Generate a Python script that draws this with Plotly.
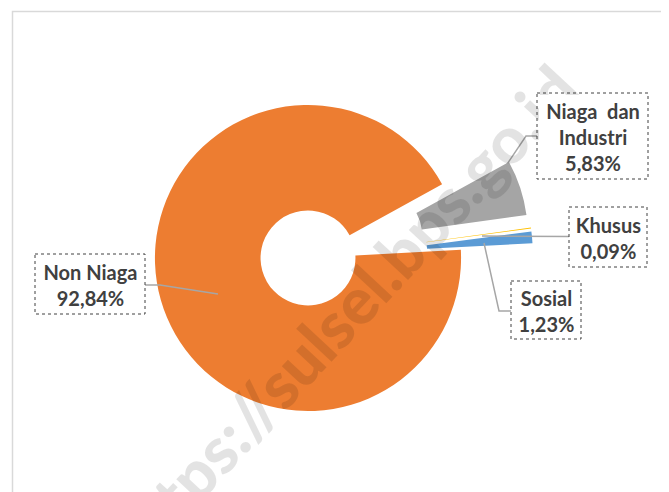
import plotly.graph_objects as go

# ---- data ----
categories = ["Sosial", "Non Niaga", "Niaga dan Industri", "Khusus"]
values = [1.23, 92.84, 5.83, 0.09]
value_labels = ["1,23%", "92,84%", "5,83%", "0,09%"]
colors = ["#5B9BD5", "#ED7D31", "#A5A5A5", "#FFC000"]
pulls = [0.47, 0.0, 0.46, 0.47]

W, H = 669, 492


def px(x):
    return x / W


def py(y):
    return 1 - y / H


CX, CY, HALF = 300, 250, 225

fig = go.Figure()
fig.add_trace(go.Pie(
    labels=categories,
    values=values,
    sort=False,
    direction="clockwise",
    rotation=82.5,
    hole=0.31,
    pull=pulls,
    marker=dict(colors=colors, line=dict(width=0)),
    textinfo="none",
    showlegend=False,
    domain=dict(x=[px(CX - HALF), px(CX + HALF)], y=[py(CY + HALF), py(CY - HALF)]),
))

shapes = []
# outer chart frame
shapes.append(dict(type="rect", xref="paper", yref="paper",
                   x0=px(4.5), y0=py(3.5), x1=px(675), y1=py(500),
                   line=dict(color="#D9D9D9", width=1.5), layer="below"))

boxes = [
    ("Non Niaga", (27, 246, 137, 306), [(137, 277), (152, 277), (210, 286)]),
    ("Niaga dan Industri", (529, 85, 640, 171), [(529, 128), (518, 128), (485, 177)]),
    ("Khusus", (561, 199, 639, 259), [(561, 228.5), (474, 228)]),
    ("Sosial", (503, 273, 573, 331), [(503, 303), (491, 303), (476, 235)]),
]
box_texts = {
    "Non Niaga": "Non Niaga<br>" + value_labels[1],
    "Niaga dan Industri": "Niaga&nbsp;&nbsp;dan<br>Industri<br>" + value_labels[2],
    "Khusus": "Khusus<br>" + value_labels[3],
    "Sosial": "Sosial<br>" + value_labels[0],
}

# watermark first (drawn below the label boxes)
annotations = [dict(
    xref="paper", yref="paper", x=px(336), y=py(304),
    xanchor="center", yanchor="middle", showarrow=False,
    text="https://sulsel.bps.go.id", textangle=-47,
    font=dict(family="Lato", size=65, weight=900, color="rgba(0,0,0,0.11)"))]

for name, (x0, y0, x1, y1), leader in boxes:
    path = "M " + " L ".join(f"{px(a)},{py(b)}" for a, b in leader)
    shapes.append(dict(type="path", xref="paper", yref="paper", path=path,
                       line=dict(color="#A6A6A6", width=1.5), layer="above"))
    shapes.append(dict(type="rect", xref="paper", yref="paper",
                       x0=px(x0), y0=py(y0), x1=px(x1), y1=py(y1),
                       line=dict(color="#404040", width=1, dash="dot"),
                       fillcolor="white", layer="above"))
    annotations.append(dict(
        xref="paper", yref="paper", x=px((x0 + x1) / 2), y=py((y0 + y1) / 2),
        xanchor="center", yanchor="middle", showarrow=False,
        width=x1 - x0 - 3, height=y1 - y0 - 3, borderpad=0, borderwidth=0,
        bgcolor="white",
        text="<b>" + box_texts[name] + "</b>",
        font=dict(family="Lato", size=20, color="#404040"), align="center"))

fig.update_layout(
    width=W, height=H,
    margin=dict(l=0, r=0, t=0, b=0),
    paper_bgcolor="white", plot_bgcolor="white",
    shapes=shapes, annotations=annotations,
)

fig.write_html("out.html")
